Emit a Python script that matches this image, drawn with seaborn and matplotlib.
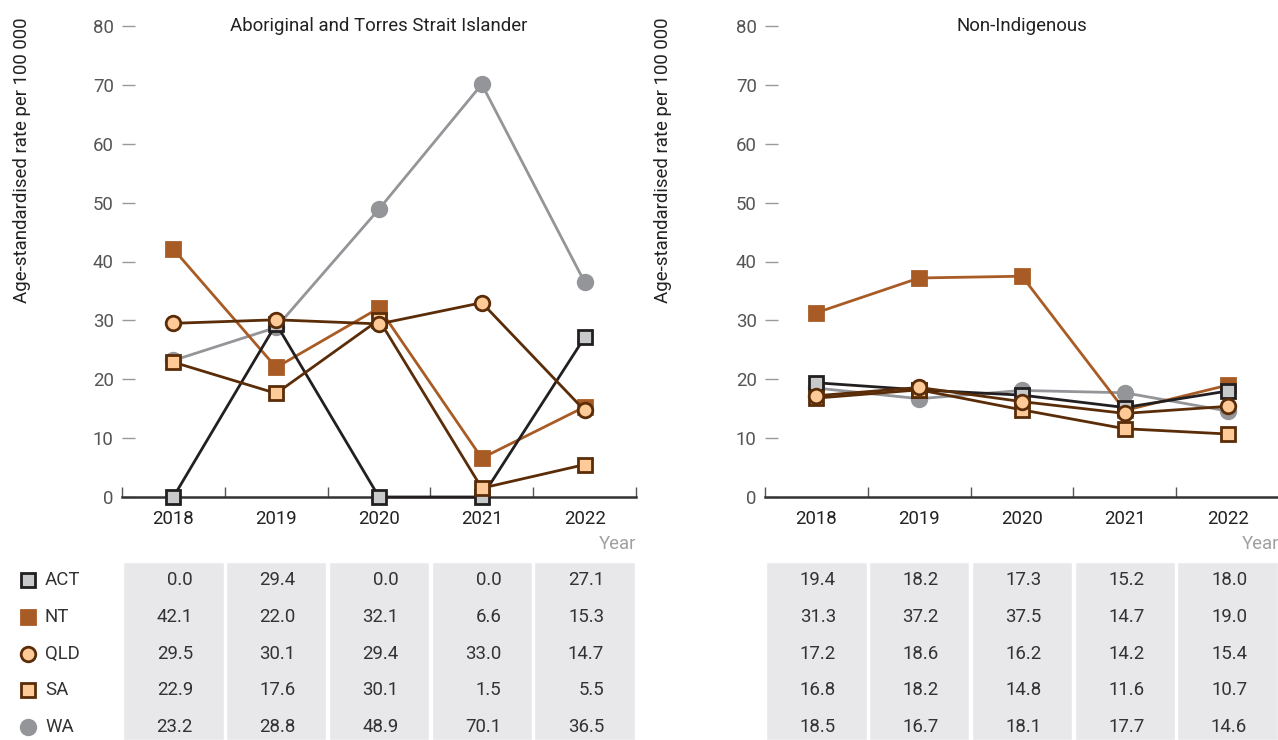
import numpy as np
import pandas as pd
import matplotlib
matplotlib.use("Agg")
import matplotlib.pyplot as plt
import seaborn as sns

# ------------------------
# Data
# ------------------------
years = ["2018", "2019", "2020", "2021", "2022"]
states = ["ACT", "NT", "QLD", "SA", "WA"]

indigenous = {
    "ACT": [0.0, 29.4, 0.0, 0.0, 27.1],
    "NT": [42.1, 22.0, 32.1, 6.6, 15.3],
    "QLD": [29.5, 30.1, 29.4, 33.0, 14.7],
    "SA": [22.9, 17.6, 30.1, 1.5, 5.5],
    "WA": [23.2, 28.8, 48.9, 70.1, 36.5],
}
non_indigenous = {
    "ACT": [19.4, 18.2, 17.3, 15.2, 18.0],
    "NT": [31.3, 37.2, 37.5, 14.7, 19.0],
    "QLD": [17.2, 18.6, 16.2, 14.2, 15.4],
    "SA": [16.8, 18.2, 14.8, 11.6, 10.7],
    "WA": [18.5, 16.7, 18.1, 17.7, 14.6],
}
panel_titles = ["Aboriginal and Torres Strait Islander", "Non-Indigenous"]

# styles : (line colour, marker, face, edge)
styles = {
    "ACT": ("#231f20", "s", "#c8c9cb", "#231f20"),
    "NT": ("#a85b25", "s", "#a85b25", "#a85b25"),
    "QLD": ("#5a2d08", "o", "#fdca98", "#5a2d08"),
    "SA": ("#5a2d08", "s", "#fdca98", "#5a2d08"),
    "WA": ("#939598", "o", "#939598", "#939598"),
}
draw_order = ["WA", "NT", "ACT", "SA", "QLD"]

sns.set_style("white")
plt.rcParams["font.family"] = ["Roboto", "DejaVu Sans"]

fig = plt.figure(figsize=(12.78, 7.4), dpi=100)

W, H = 1278, 740
FS = 13.4
idx = np.arange(len(years))
row_ylim = (4.35, -0.49)

for p, (data, title) in enumerate(zip([indigenous, non_indigenous], panel_titles)):
    left_px = 122 if p == 0 else 765
    ax = fig.add_axes([left_px / W, (H - 497) / H, 514 / W, (497 - 26) / H])

    for st in draw_order:
        lc, mk, fc, ec = styles[st]
        df = pd.DataFrame({"x": idx, "y": data[st]})
        sns.lineplot(data=df, x="x", y="y", ax=ax, color=lc, linewidth=2,
                     marker=mk, markersize=10.5, markerfacecolor=fc,
                     markeredgecolor=ec, markeredgewidth=2, clip_on=False,
                     zorder=4)

    ax.set_xlim(-0.5, 4.5)
    ax.set_ylim(0, 80)
    ax.set_yticks(range(0, 81, 10))
    ax.set_xticks(idx)
    ax.set_xticklabels(years)
    ax.set_xticks(np.arange(-0.5, 4.6, 1), minor=True)
    ax.set_xlabel("")
    ax.set_ylabel("")
    for s in ["left", "top", "right"]:
        ax.spines[s].set_visible(False)
    ax.spines["bottom"].set_color("#333333")
    ax.spines["bottom"].set_linewidth(1.8)
    ax.spines["bottom"].set_zorder(3)
    ax.tick_params(axis="y", direction="in", length=9, width=1, color="#999999",
                   labelsize=FS, labelcolor="#555555", pad=6, left=True)
    ax.tick_params(axis="x", which="major", length=0, labelsize=FS,
                   labelcolor="#222222", pad=9)
    ax.tick_params(axis="x", which="minor", direction="in", length=7, width=1,
                   color="#555555", bottom=True)
    ax.text(0.5, 1.0, title, transform=ax.transAxes, ha="center", va="center",
            fontsize=FS, color="#222222")
    ax.text(1.0, -0.1, "Year", transform=ax.transAxes, ha="right", va="center",
            fontsize=FS, color="#a0a0a0", clip_on=False)
    fig.text((22 if p == 0 else 663) / W, (H - 160) / H,
             "Age-standardised rate per 100 000", rotation=90,
             ha="center", va="center", fontsize=FS, color="#222222")

    # table below the chart
    tab = fig.add_axes([left_px / W, 0, 514 / W, 178 / H])
    tab.set_xlim(-0.5, 4.5)
    tab.set_ylim(*row_ylim)
    tab.bar(idx, row_ylim[0] - row_ylim[1], bottom=row_ylim[1], width=0.975,
            color="#e8e8ea")
    for r, st in enumerate(states):
        for i, v in enumerate(data[st]):
            tab.text(i + 0.19, r, f"{v:.1f}", ha="right", va="center",
                     fontsize=FS, color="#333333")
    tab.axis("off")

# legend
leg = fig.add_axes([0, 0, 122 / W, 178 / H])
leg.set_xlim(0, 122)
leg.set_ylim(*row_ylim)
for r, st in enumerate(states):
    lc, mk, fc, ec = styles[st]
    leg.plot([28], [r], marker=mk, markersize=10.5, markerfacecolor=fc,
             markeredgecolor=ec, markeredgewidth=2, linestyle="none")
    leg.text(45, r, st, ha="left", va="center", fontsize=FS, color="#333333")
leg.axis("off")

fig.savefig("out.png", dpi=100)
